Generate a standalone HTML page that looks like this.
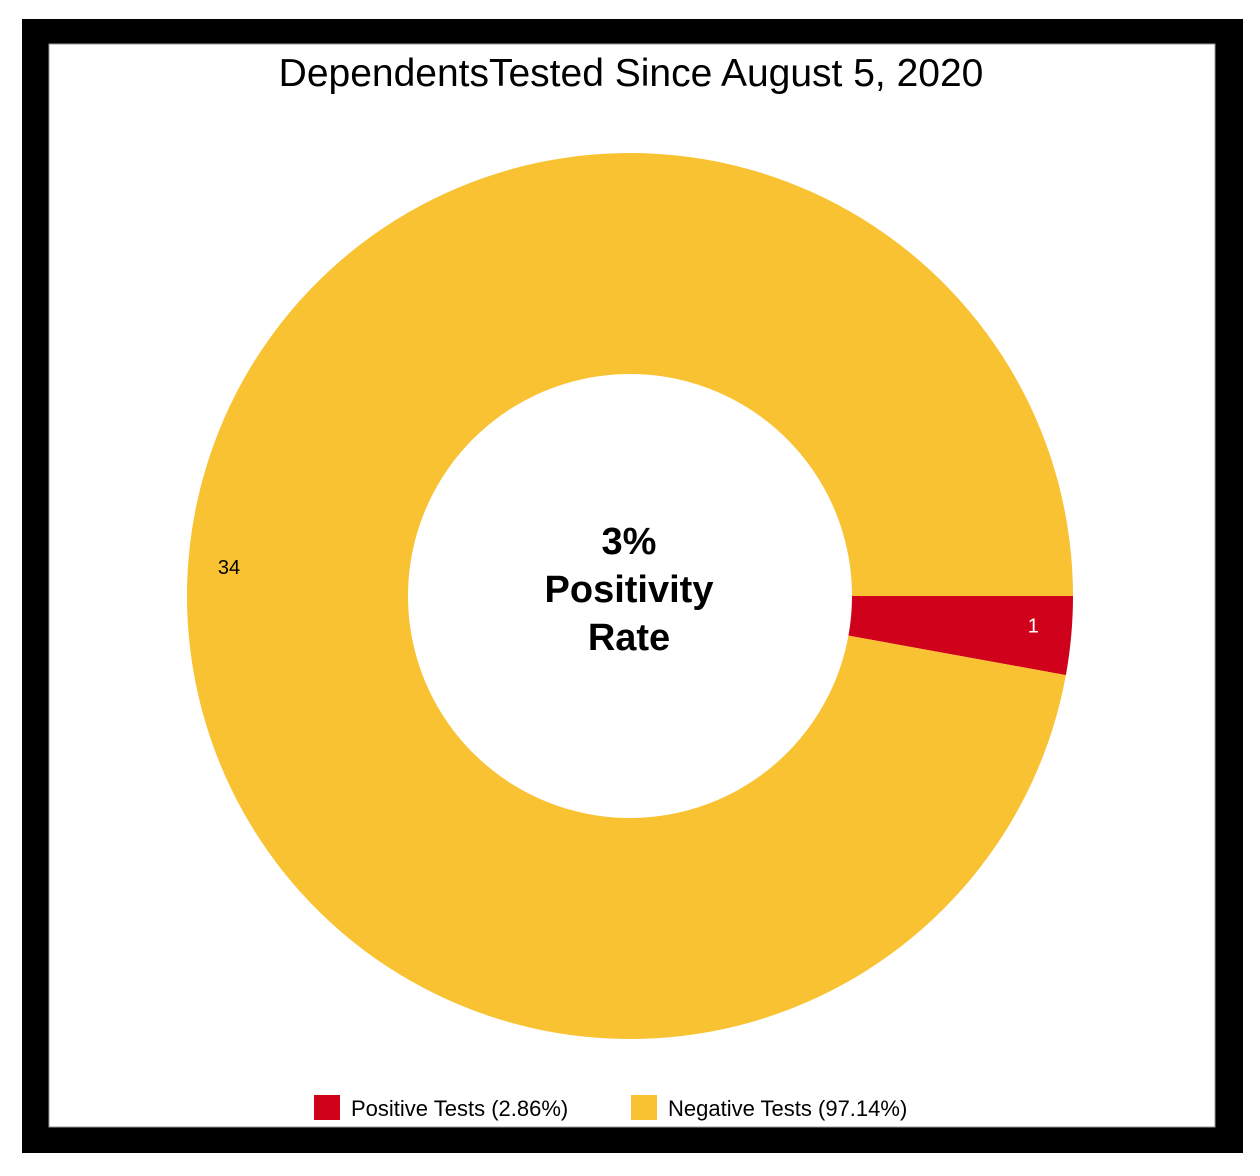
<!DOCTYPE html>
<html><head><meta charset="utf-8"><style>
body{margin:0;background:#fff;width:1260px;height:1171px;overflow:hidden;font-family:"Liberation Sans",sans-serif}
</style></head><body>
<svg width="1260" height="1171">
<rect x="22" y="19" width="1221" height="1134" fill="#000"/>
<rect x="49" y="44" width="1166" height="1083" fill="#fff" stroke="#999" stroke-width="1"/>
<text x="631" y="86" text-anchor="middle" font-size="39" fill="#000">DependentsTested Since August 5, 2020</text>
<g id="slices"></g>
<text x="629" y="554" text-anchor="middle" font-size="38" font-weight="bold">3%</text>
<text x="629" y="602" text-anchor="middle" font-size="38" font-weight="bold">Positivity</text>
<text x="629" y="650" text-anchor="middle" font-size="38" font-weight="bold">Rate</text>
<g>
<rect x="314" y="1095" width="26" height="25" fill="#D0021B"/>
<text x="351" y="1116" font-size="22">Positive Tests (2.86%)</text>
<rect x="631" y="1095" width="26" height="25" fill="#F9C232"/>
<text x="668" y="1116" font-size="22">Negative Tests (97.14%)</text>
</g>
</svg>
<script>
const categories=["Positive Tests","Negative Tests"];
const values=[1,34];
const colors=["#D0021B","#F9C232"];
const labelColors=["#fff","#000"];
const cx=630,cy=596,R=443,r=222;
const g=document.getElementById('slices');
const ns="http://www.w3.org/2000/svg";
const total=values.reduce((a,b)=>a+b,0);
let a0=0;
function pt(rad,a){return [cx+rad*Math.cos(a),cy+rad*Math.sin(a)];}
values.forEach((v,i)=>{
  const a1=a0+v/total*2*Math.PI;
  const large=(a1-a0)>Math.PI?1:0;
  const [x0,y0]=pt(R,a0),[x1,y1]=pt(R,a1),[x2,y2]=pt(r,a1),[x3,y3]=pt(r,a0);
  const p=document.createElementNS(ns,'path');
  p.setAttribute('d',`M${x0},${y0}A${R},${R} 0 ${large} 1 ${x1},${y1}L${x2},${y2}A${r},${r} 0 ${large} 0 ${x3},${y3}Z`);
  p.setAttribute('fill',colors[i]);
  
  
  g.appendChild(p);
  let lx,ly;
  if(i===0){const m=(a0+a1)/2;[lx,ly]=pt(405,m);}
  else{[lx,ly]=[229,574];}
  const t=document.createElementNS(ns,'text');
  t.setAttribute('x',lx);t.setAttribute('y',ly);
  t.setAttribute('text-anchor','middle');t.setAttribute('font-size','20');
  t.setAttribute('fill',labelColors[i]);
  t.textContent=values[i];
  
  
  g.appendChild(t);
  a0=a1;
});
</script>
</body></html>
